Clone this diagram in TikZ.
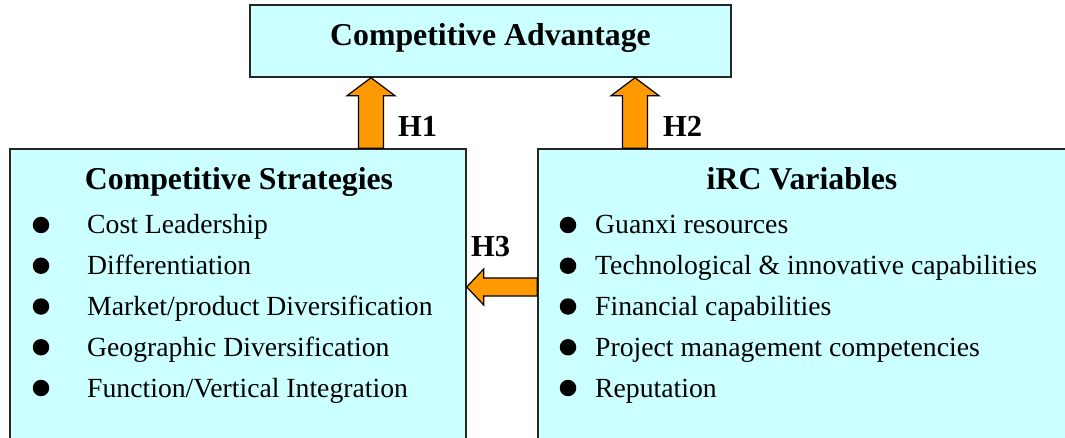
\documentclass[tikz,border=0pt]{standalone}
\usepackage{fontspec}
\setmainfont{Liberation Serif}
\usetikzlibrary{calc}
\definecolor{boxfill}{HTML}{CCFFFF}
\definecolor{arrowfill}{HTML}{FF9900}
\begin{document}
\begin{tikzpicture}[x=1pt,y=-1pt,
  panel/.style={draw=black!85,line width=1.4pt,fill=boxfill,rectangle,inner sep=0pt},
  heading/.style={font=\fontsize{31.8}{36}\selectfont\bfseries,inner sep=0pt},
  hlabel/.style={font=\fontsize{30.5}{34}\selectfont\bfseries,inner sep=0pt,anchor=base west},
  item/.style={font=\fontsize{27.7}{32}\selectfont,inner sep=0pt,anchor=base west},
  dot/.style={circle,fill=black,inner sep=0pt,minimum size=16.5pt},
  fatarrow/.style={draw=black,line width=1.2pt,fill=arrowfill,line join=miter}]
\useasboundingbox (0,0) rectangle (1065,438);
\begin{scope}
\clip (0,0) rectangle (1065,438);

% boxes
\node[panel,minimum width=481pt,minimum height=72pt] (adv) at (490.5,41) {};
\node[panel,minimum width=456pt,minimum height=320pt] (cs) at (238,309) {};
\node[panel,minimum width=532pt,minimum height=320pt] (irc) at (804,309) {};

% headings
\node[heading,anchor=base] (advt) at (490.5,46) {Competitive Advantage};
\node[heading,anchor=base] (cst) at (239,190) {Competitive Strategies};
\node[heading,anchor=base] (irct) at (802,190) {iRC Variables};

% left list
\foreach \i/\t in {0/{Cost Leadership},1/{Differentiation},2/{Market/product Diversification},3/{Geographic Diversification},4/{Function/Vertical Integration}}{
  \node[dot] (csb\i) at (41,225+40.75*\i) {};
  \node[item] (csi\i) at (87,234+40.75*\i) {\t};
}
% right list
\foreach \i/\t in {0/{Guanxi resources},1/{Technological \& innovative capabilities},2/{Financial capabilities},3/{Project management competencies},4/{Reputation}}{
  \node[dot] (ircb\i) at (568,225+40.75*\i) {};
  \node[item] (irci\i) at (595,234+40.75*\i) {\t};
}

% arrow axes
\coordinate (h1x) at (371,0);
\coordinate (h2x) at (635,0);
\coordinate (h3y) at (0,287);
\coordinate (h1tip) at (adv.south -| h1x);
\coordinate (h1base) at (cs.north -| h1x);
\coordinate (h2tip) at (adv.south -| h2x);
\coordinate (h2base) at (irc.north -| h2x);
\coordinate (h3tip) at (cs.east |- h3y);
\coordinate (h3base) at (irc.west |- h3y);

% H1 and H2: upward block arrows
\foreach \b/\t in {h1base/h1tip,h2base/h2tip}{
  \draw[fatarrow] ($(\b)+(-12.5,0)$) -- ($(\t)+(-12.5,18)$) -- ($(\t)+(-24,18)$) -- (\t)
    -- ($(\t)+(24,18)$) -- ($(\t)+(12.5,18)$) -- ($(\b)+(12.5,0)$) -- cycle;
}
% H3: leftward block arrow
\draw[fatarrow] ($(h3base)+(0,-9)$) -- ($(h3tip)+(17,-9)$) -- ($(h3tip)+(17,-18)$) -- (h3tip)
  -- ($(h3tip)+(17,18)$) -- ($(h3tip)+(17,9)$) -- ($(h3base)+(0,9)$) -- cycle;

% hypothesis labels
\node[hlabel] (h1) at (398,137) {H1};
\node[hlabel] (h2) at (663,137) {H2};
\node[hlabel] (h3) at (471,257) {H3};
\end{scope}
\end{tikzpicture}
\end{document}
